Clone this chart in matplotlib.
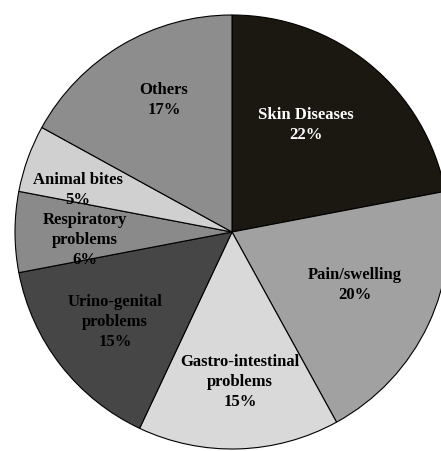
import numpy as np
import matplotlib.pyplot as plt

# Share of cases by disease category (clockwise from top)
labels = ['Skin Diseases', 'Pain/swelling', 'Gastro-intestinal\nproblems',
          'Urino-genital\nproblems', 'Respiratory\nproblems', 'Animal bites', 'Others']
values = [22, 20, 15, 15, 6, 5, 17]
colors = ['#1b1711', '#a1a1a1', '#d9d9d9', '#464646', '#8a8a8a', '#d0d0d0', '#8d8d8d']
text_colors = ['white', 'black', 'black', 'black', 'black', 'black', 'black']
# label anchor positions relative to centre (in radius units)
label_pos = [(0.341, 0.493), (0.567, -0.244), (0.037, -0.691), (-0.539, -0.415),
             (-0.677, -0.037), (-0.71, 0.194), (-0.313, 0.608)]

fig = plt.figure(figsize=(4.41, 4.51), dpi=100)
ax = fig.add_axes([0, 0, 1, 1])

ax.pie(values, colors=colors, startangle=90, counterclock=False,
       wedgeprops=dict(edgecolor='black', linewidth=0.8))

for lab, v, (x, y), tc in zip(labels, values, label_pos, text_colors):
    ax.text(x, y, f'{lab}\n{v}%', ha='center', va='center', color=tc,
            fontsize=12, fontweight='bold', family='Liberation Serif',
            linespacing=1.35)

scale = 217.0
ax.set_aspect('auto')
ax.set_xlim(-232 / scale, (441 - 232) / scale)
ax.set_ylim(-(451 - 232) / scale, 232 / scale)
ax.axis('off')

fig.savefig('out.png', dpi=100)
